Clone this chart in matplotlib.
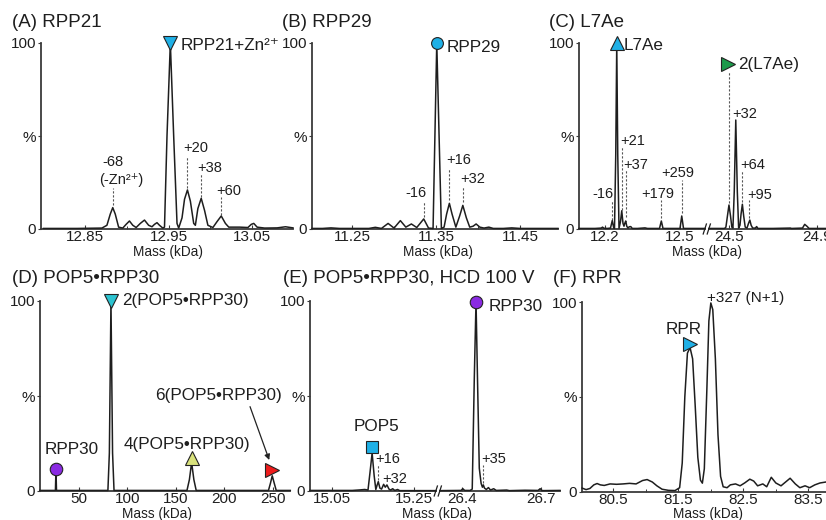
import matplotlib
matplotlib.use('Agg')
import matplotlib.pyplot as plt
from matplotlib.lines import Line2D

plt.rcParams['font.family'] = ['Liberation Sans', 'DejaVu Sans']

# ---------------- data ----------------
# (A) RPP21
A_mass = [12.800, 12.840, 12.870, 12.876, 12.880, 12.883, 12.886, 12.890, 12.895, 12.899, 12.903,
          12.907, 12.911, 12.916, 12.921, 12.926, 12.930, 12.933, 12.936, 12.939, 12.943, 12.945,
          12.948, 12.952, 12.956, 12.960, 12.962, 12.966, 12.969, 12.9725, 12.976, 12.980, 12.982,
          12.985, 12.989, 12.993, 12.997, 13.003, 13.008, 13.013, 13.018, 13.022, 13.035, 13.045,
          13.049, 13.052, 13.056, 13.065, 13.080, 13.090, 13.099]
A_int = [0.3, 0.3, 0.5, 2, 8, 11.5, 8, 1, 0.5, 2.5, 4.3,
         2, 0.8, 3, 4.8, 2, 1.2, 2.5, 3.4, 2, 0.5, 1,
         50, 100, 50, 3, 0.5, 6, 16, 21, 15, 3, 2,
         11, 16.5, 10, 2, 0.8, 4, 7, 3, 1, 1, 0.8,
         2.5, 3, 1, 0.5, 0.6, 1.2, 0.6]
A_ticks = [12.85, 12.95, 13.05]
A_ticklabels = ['12.85', '12.95', '13.05']

# (B) RPP29
B_mass = [11.2024, 11.215, 11.225, 11.235, 11.270, 11.2777, 11.285, 11.2929, 11.300, 11.3075,
          11.314, 11.3206, 11.327, 11.3353, 11.341, 11.3464, 11.3508, 11.3563, 11.3595, 11.3625,
          11.3658, 11.369, 11.3735, 11.378, 11.3818, 11.386, 11.390, 11.394, 11.3976, 11.402,
          11.407, 11.4127, 11.418, 11.430, 11.440, 11.450, 11.495]
B_int = [0.3, 0.3, 0.6, 0.3, 0.3, 0.9, 0.3, 3, 0.5, 4.5,
         1, 2.7, 0.8, 5.4, 0.5, 0.3, 100, 0.3, 1, 8,
         13.8, 8, 1, 7, 12.7, 6, 1, 1.5, 2.7, 1,
         0.5, 1, 0.3, 0.3, 0.6, 0.3, 0.3]
B_ticks = [11.25, 11.35, 11.45]
B_ticklabels = ['11.25', '11.35', '11.45']

# (C) L7Ae  (broken axis: monomer region | dimer region)
C1_mass = [12.096, 12.160, 12.185, 12.190, 12.196, 12.210, 12.222, 12.229, 12.235, 12.238,
           12.243, 12.247, 12.251, 12.256, 12.262, 12.267, 12.272, 12.276, 12.279, 12.283,
           12.287, 12.292, 12.297, 12.303, 12.309, 12.330, 12.360, 12.370, 12.418, 12.4253,
           12.432, 12.500, 12.507, 12.514, 12.600]
C1_int = [0.3, 0.3, 0.5, 1.0, 0.4, 0.3, 0.5, 4.5, 0.5, 0.3,
          40, 100, 40, 0.3, 4, 9.8, 3, 1.5, 3, 4.3,
          1.5, 0.5, 1.2, 1.3, 0.3, 0.3, 0.6, 0.3, 0.3, 4.3,
          0.3, 0.3, 7, 0.3, 0.3]
C2_mass = [24.409, 24.480, 24.486, 24.493, 24.500, 24.507, 24.513, 24.518, 24.524, 24.531,
           24.538, 24.544, 24.550, 24.555, 24.561, 24.567, 24.574, 24.582, 24.589, 24.595,
           24.601, 24.608, 24.620, 24.626, 24.632, 24.700, 24.780, 24.785, 24.835, 24.845,
           24.855, 24.865, 24.942]
C2_int = [0.3, 0.3, 1, 7, 12.9, 7, 1, 0.5, 20, 58.6,
          20, 0.5, 2, 8, 13.3, 7, 1, 0.5, 3, 4.8,
          2, 0.5, 0.5, 1.3, 0.3, 0.3, 0.5, 0.3, 0.5, 2.5,
          1.5, 0.3, 0.3]
C1_ticks, C1_ticklabels = [12.2, 12.5], ['12.2', '12.5']
C2_ticks, C2_ticklabels = [24.5, 24.9], ['24.5', '24.9']

# (D) POP5•RPP30 native
D_mass = [10, 25.9, 26.45, 27.0, 80.0, 81.5, 83.15, 84.8, 86.3, 161.5, 164, 166.3, 168.6, 171,
          245.5, 247.5, 249.4, 251.5, 253.5, 268]
D_int = [0.3, 0.3, 11.4, 0.3, 0.3, 20, 100, 20, 0.3, 0.3, 6, 15, 6, 0.3,
         0.3, 4, 8, 4, 0.3, 0.3]
D_ticks = [50, 100, 150, 200, 250]
D_ticklabels = ['50', '100', '150', '200', '250']

# (E) POP5•RPP30, HCD 100 V (broken axis)
E1_mass = [14.997, 15.100, 15.120, 15.130, 15.138, 15.143, 15.148, 15.153, 15.157, 15.160,
           15.163, 15.167, 15.171, 15.176, 15.180, 15.184, 15.189, 15.193, 15.198, 15.203,
           15.210, 15.215, 15.250, 15.303]
E1_int = [0.3, 0.3, 0.6, 0.8, 0.5, 10, 20, 8, 0.8, 3,
          4.9, 1.5, 1, 3.5, 2, 3.2, 1, 0.5, 1.2, 0.3,
          0.8, 0.2, 0.2, 0.2]
E2_mass = [26.315, 26.395, 26.402, 26.409, 26.430, 26.438, 26.446, 26.4525, 26.458, 26.465,
           26.472, 26.477, 26.4805, 26.485, 26.492, 26.500, 26.508, 26.520, 26.530, 26.570,
           26.580, 26.640, 26.690, 26.698, 26.706, 26.774]
E2_int = [0.2, 0.3, 1.2, 0.3, 0.3, 1, 60, 100, 60, 12,
          4, 2, 3.2, 1.5, 0.8, 1.8, 0.5, 1.2, 0.3, 0.5,
          0.2, 0.4, 0.3, 1.2, 0.2, 0.3]
E1_ticks, E1_ticklabels = [15.05, 15.25], ['15.05', '15.25']
E2_ticks, E2_ticklabels = [26.4, 26.7], ['26.4', '26.7']

# (F) RPR
F_mass = [80.02, 80.08, 80.14, 80.20, 80.25, 80.30, 80.36, 80.45, 80.55, 80.65, 80.75, 80.85,
          80.95, 81.02, 81.10, 81.17, 81.25, 81.35, 81.45, 81.52, 81.56, 81.60, 81.64, 81.68,
          81.72, 81.76, 81.80, 81.84, 81.87, 81.90, 81.94, 81.97, 82.00, 82.03, 82.07, 82.11,
          82.15, 82.19, 82.25, 82.30, 82.38, 82.45, 82.52, 82.60, 82.66, 82.72, 82.80, 82.86,
          82.93, 83.00, 83.08, 83.15, 83.22, 83.30, 83.37, 83.45, 83.52, 83.60, 83.68, 83.77]
F_int = [1.8, 1.0, 1.6, 3.5, 4.2, 3.5, 3.2, 4.0, 3.8, 4.0, 4.3, 4.0,
         5.8, 6.3, 5.0, 3.0, 1.2, 0.6, 0.5, 2.0, 15, 50, 73, 76,
         70, 45, 18, 6, 4.4, 12, 55, 90, 99.5, 96, 70, 30,
         8, 2.5, 2.0, 3.5, 4.0, 3.0, 4.5, 6.5, 5.5, 3.0, 4.0, 2.5,
         7.5, 4.5, 3.0, 5.0, 7.0, 4.0, 2.0, 3.0, 2.0, 3.5, 4.5, 5.0]
F_ticks = [80.5, 81.5, 82.5, 83.5]
F_ticklabels = ['80.5', '81.5', '82.5', '83.5']

# ---------------- helpers ----------------
W, H = 826, 520
fig = plt.figure(figsize=(8.26, 5.2), dpi=100)
INK = '#1e1e1e'
AX = '#3a3a3a'
FS_TITLE, FS_MARK, FS_ANN, FS_TICK, FS_MASS = 13.5, 12.3, 10.5, 11, 9.8


def rect(x0, x1, ytop, ybot):
    return [x0 / W, 1 - ybot / H, (x1 - x0) / W, (ybot - ytop) / H]


def make_ax(r, xlim, ticks, labels, left=True):
    ax = fig.add_axes(r)
    ax.set_xlim(*xlim)
    ax.set_ylim(0, 100)
    ax.patch.set_alpha(0)
    for s in ['top', 'right']:
        ax.spines[s].set_visible(False)
    ax.spines['bottom'].set_color(AX)
    ax.spines['bottom'].set_linewidth(1.3)
    ax.spines['left'].set_color(AX)
    ax.spines['left'].set_linewidth(1.3)
    ax.set_xticks(ticks)
    ax.set_xticklabels(labels)
    ax.tick_params(axis='x', direction='in', length=3, width=0.8, pad=1.0,
                   labelsize=FS_TICK, colors=AX, labelcolor=INK)
    if left:
        ax.set_yticks([0, 50, 100])
        ax.set_yticklabels(['0', '%', '100'])
        ax.tick_params(axis='y', direction='out', length=2.5, width=0.8, pad=1,
                       labelsize=FS_TICK, colors=AX, labelcolor=INK)
    else:
        ax.spines['left'].set_visible(False)
        ax.set_yticks([])
    return ax


def trace(ax, x, y):
    ax.plot(x, y, color=INK, lw=1.1, clip_on=False, zorder=3)


def dash(ax, x, y0, y1):
    ax.plot([x, x], [y0, y1], color='#555555', lw=0.8, ls=(0, (2, 1.6)), zorder=2, clip_on=False)


def mark(ax, x, y, m, c, ms=9):
    ax.plot([x], [y], marker=m, ms=ms, mfc=c, mec='#222222', mew=0.8, clip_on=False, zorder=6,
            ls='none')


def lab(ax, x, y, s, fs=FS_ANN, ha='center'):
    ax.text(x, y, s, fontsize=fs, ha=ha, va='center', color=INK, clip_on=False)


def ftext(px, py, s, fs, ha='left'):
    fig.text(px / W, 1 - py / H, s, fontsize=fs, ha=ha, va='center', color=INK)


def brk(px, py):
    for dx in (-2.2, 1.8):
        fig.add_artist(Line2D([(px + dx - 1.6) / W, (px + dx + 1.6) / W],
                              [1 - (py + 5) / H, 1 - (py - 5) / H],
                              color=INK, lw=0.9))


CYAN = '#1fb0e6'

# ---------------- (A) ----------------
axA = make_ax(rect(41, 293, 43, 229), (12.797, 13.099), A_ticks, A_ticklabels)
axA.set_xticks([12.90, 13.00], minor=True)
axA.tick_params(axis='x', which='minor', direction='in', length=2, width=0.7, colors=AX)
trace(axA, A_mass, A_int)
mark(axA, 12.952, 100, 'v', CYAN, 10)
lab(axA, 12.9645, 98.9, 'RPP21+Zn²⁺', FS_MARK, 'left')
lab(axA, 12.8837, 36, '-68')
lab(axA, 12.8934, 26.3, '(-Zn²⁺)')
dash(axA, 12.883, 13, 22)
lab(axA, 12.9825, 43.3, '+20')
dash(axA, 12.9725, 22, 38.7)
lab(axA, 12.9994, 33, '+38')
dash(axA, 12.989, 17.2, 30.1)
lab(axA, 13.0217, 20.4, '+60')
dash(axA, 13.013, 7.5, 17.2)

# ---------------- (B) ----------------
axB = make_ax(rect(312, 558, 43, 229), (11.2024, 11.495), B_ticks, B_ticklabels)
axB.set_xticks([11.30, 11.40], minor=True)
axB.tick_params(axis='x', which='minor', direction='in', length=2, width=0.7, colors=AX)
trace(axB, B_mass, B_int)
mark(axB, 11.3508, 100, 'o', CYAN, 8.5)
lab(axB, 11.3627, 97.5, 'RPP29', FS_MARK, 'left')
lab(axB, 11.377, 37.1, '+16')
dash(axB, 11.3658, 15.6, 32.8)
lab(axB, 11.3937, 26.9, '+32')
dash(axB, 11.3818, 14.5, 22.7)
lab(axB, 11.3265, 19.4, '-16')
dash(axB, 11.3353, 6.5, 14.5)

# ---------------- (C) ----------------
axC1 = make_ax(rect(579, 705, 43, 229), (12.096, 12.6), C1_ticks, C1_ticklabels)
axC2 = make_ax(rect(709, 826, 43, 229), (24.409, 24.942), C2_ticks, C2_ticklabels, left=False)
trace(axC1, C1_mass, C1_int)
trace(axC2, C2_mass, C2_int)
mark(axC1, 12.247, 100, '^', CYAN, 10)
lab(axC1, 12.273, 98.9, 'L7Ae', FS_MARK, 'left')
lab(axC1, 12.260, 47.3, '+21', FS_ANN, 'left')
dash(axC1, 12.267, 10.2, 44.2)
lab(axC1, 12.273, 34.6, '+37', FS_ANN, 'left')
dash(axC1, 12.284, 6.6, 31.7)
lab(axC1, 12.1932, 18.8, '-16')
dash(axC1, 12.2268, 4.8, 15.6)
lab(axC1, 12.413, 18.8, '+179')
dash(axC1, 12.424, 5.9, 15.6)
lab(axC1, 12.493, 29.9, '+259')
dash(axC1, 12.5068, 8.6, 26.3)
mark(axC2, 24.497, 88.5, '>', '#1b9a4a', 9.5)
lab(axC2, 24.5425, 88.7, '2(L7Ae)', FS_MARK, 'left')
dash(axC2, 24.500, 14, 84.6)
lab(axC2, 24.517, 61.8, '+32', FS_ANN, 'left')
lab(axC2, 24.55, 34.6, '+64', FS_ANN, 'left')
dash(axC2, 24.5607, 14.3, 31.7)
lab(axC2, 24.581, 18.3, '+95', FS_ANN, 'left')
dash(axC2, 24.5927, 6, 15.6)
brk(707, 229)

# ---------------- (D) ----------------
axD = make_ax(rect(40, 290, 301, 491), (10, 267.7), D_ticks, D_ticklabels)
trace(axD, D_mass, D_int)
mark(axD, 26.45, 11.4, 'o', '#8a2be2', 9)
lab(axD, 42.6, 21.9, 'RPP30', FS_MARK)
mark(axD, 83.15, 100, 'v', '#2cc3d0', 9.5)
lab(axD, 94.2, 100.2, '2(POP5•RPP30)', FS_MARK, 'left')
mark(axD, 166.3, 17.2, '^', '#d9e27c', 10)
lab(axD, 161.2, 24.6, '4(POP5•RPP30)', FS_MARK)
mark(axD, 248.8, 11, '>', '#ee1c1c', 10)
lab(axD, 193.8, 50.1, '6(POP5•RPP30)', FS_MARK)
axD.annotate('', xy=(246.3, 16.3), xytext=(226.5, 44.4),
             arrowprops=dict(arrowstyle='-|>', color='#222222', lw=0.9, mutation_scale=8,
                             shrinkA=0, shrinkB=0))

# ---------------- (E) ----------------
axE1 = make_ax(rect(310, 436, 301, 491), (14.997, 15.3033), E1_ticks, E1_ticklabels)
axE2 = make_ax(rect(440, 560, 301, 491), (26.3146, 26.774), E2_ticks, E2_ticklabels, left=False)
trace(axE1, E1_mass, E1_int)
trace(axE2, E2_mass, E2_int)
mark(axE1, 15.148, 23.2, 's', CYAN, 8.5)
lab(axE1, 15.159, 33.8, 'POP5', FS_MARK)
lab(axE1, 15.155, 16.8, '+16', FS_ANN, 'left')
dash(axE1, 15.163, 5.8, 13.7)
lab(axE1, 15.173, 6.3, '+32', FS_ANN, 'left')
mark(axE2, 26.4525, 99.5, 'o', '#8a2be2', 9)
lab(axE2, 26.4996, 97, 'RPP30', FS_MARK, 'left')
lab(axE2, 26.474, 16.8, '+35', FS_ANN, 'left')
dash(axE2, 26.4805, 4, 13.7)
brk(438, 491)

# ---------------- (F) ----------------
axF = make_ax(rect(582, 826, 302, 491.5), (80.018, 83.772), F_ticks, F_ticklabels)
axF.set_xticks([81.0, 82.0, 83.0], minor=True)
axF.tick_params(axis='x', which='minor', direction='in', length=2, width=0.7, colors=AX)
trace(axF, F_mass, F_int)
mark(axF, 81.68, 77.6, '>', CYAN, 10)
lab(axF, 81.577, 85.6, 'RPR', FS_MARK)
lab(axF, 81.937, 102.2, '+327 (N+1)', 11, 'left')

# ---------------- titles & axis names ----------------
ftext(11.7, 22.5, '(A) RPP21', FS_TITLE)
ftext(281.7, 22.5, '(B) RPP29', FS_TITLE)
ftext(549.3, 22.5, '(C) L7Ae', FS_TITLE)
ftext(11.7, 278.3, '(D) POP5•RPP30', FS_TITLE)
ftext(282.7, 278.3, '(E) POP5•RPP30, HCD 100 V', FS_TITLE)
ftext(552.7, 278.3, '(F) RPR', FS_TITLE)

for px, py in [(168.3, 251.5), (438, 251.5), (706.7, 251.5),
               (157, 514.2), (436.7, 514.2), (708.3, 514.2)]:
    ftext(px, py, 'Mass (kDa)', FS_MASS, 'center')

fig.savefig('out.png', dpi=100)
